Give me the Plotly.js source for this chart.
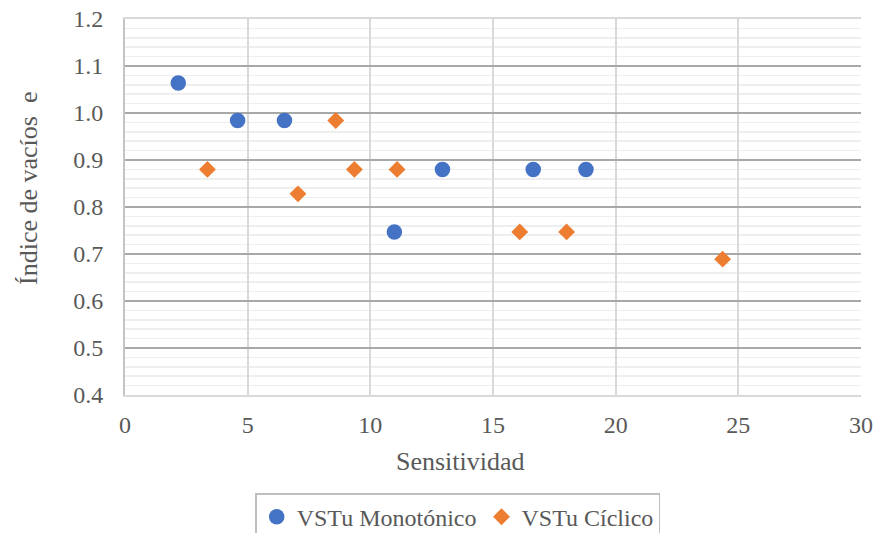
<!DOCTYPE html>
<html>
<head>
<meta charset="utf-8">
<script src="https://cdn.plot.ly/plotly-3.0.1.min.js"></script>
<style>
  html, body { margin: 0; padding: 0; background: #ffffff; }
  #chart { width: 875px; height: 533px; }
</style>
</head>
<body>
<div id="chart"></div>
<script>
// Void ratio vs. sensitivity for monotonic and cyclic VSTu tests
const monoSens = [2.17, 4.59, 6.50, 10.98, 12.94, 16.64, 18.79];
const monoVoid = [1.064, 0.984, 0.984, 0.747, 0.880, 0.880, 0.880];

const cycSens = [3.36, 7.05, 8.59, 9.35, 11.09, 16.09, 18.00, 24.36];
const cycVoid = [0.880, 0.828, 0.984, 0.880, 0.880, 0.747, 0.747, 0.689];

const seriesNames = ['VSTu Monotónico', 'VSTu Cíclico'];
const xTitle = 'Sensitividad';
const yTitle = 'Índice de vacíos  e';

const textColor = '#595959';
const fontFamily = '"Liberation Serif", "Times New Roman", serif';

const traces = [
  {
    x: monoSens, y: monoVoid, name: seriesNames[0],
    type: 'scatter', mode: 'markers',
    marker: { symbol: 'circle', size: 15.5, color: '#4472C4' }
  },
  {
    x: cycSens, y: cycVoid, name: seriesNames[1],
    type: 'scatter', mode: 'markers',
    marker: { symbol: 'diamond', size: 13, color: '#ED7D31' }
  }
];

const layout = {
  width: 875, height: 533,
  paper_bgcolor: '#ffffff', plot_bgcolor: '#ffffff',
  margin: { l: 125, r: 14, t: 19, b: 138, autoexpand: false },
  font: { family: fontFamily, color: textColor, size: 24 },
  showlegend: true,
  legend: {
    orientation: 'h',
    x: 0.452, xanchor: 'center',
    y: -0.261, yanchor: 'top',
    bordercolor: '#bfbfbf', borderwidth: 1.5,
    font: { family: fontFamily, size: 24, color: textColor },
    itemwidth: 30,
    traceorder: 'normal'
  },
  xaxis: {
    range: [0, 30], dtick: 5, tick0: 0,
    showgrid: true, gridcolor: '#d9d9d9', gridwidth: 2,
    zeroline: false, showline: true, linecolor: '#d9d9d9', linewidth: 2,
    mirror: true,
    ticks: '', ticklen: 0, ticklabelstandoff: 7,
    tickfont: { family: fontFamily, size: 24, color: textColor }
  },
  yaxis: {
    range: [0.4, 1.2], dtick: 0.1, tick0: 0.4,
    tickformat: '.1f',
    showgrid: true, gridcolor: '#a8a8a8', gridwidth: 1.5,
    zeroline: false, showline: true, linecolor: '#c4c4c4', linewidth: 2,
    ticks: '', ticklen: 0, ticklabelstandoff: 15,
    minor: { dtick: 0.02, tick0: 0.4, showgrid: true, gridcolor: '#eeeeee', gridwidth: 1.5 },
    tickfont: { family: fontFamily, size: 24, color: textColor }
  },
  annotations: [
    {
      text: xTitle, xref: 'paper', yref: 'paper',
      x: 0.4565, y: -0.178, xanchor: 'center', yanchor: 'middle',
      showarrow: false,
      font: { family: fontFamily, size: 26, color: textColor }
    },
    {
      text: yTitle, xref: 'paper', yref: 'paper', textangle: -90,
      x: -0.1304, y: 0.548, xanchor: 'center', yanchor: 'middle',
      showarrow: false,
      font: { family: fontFamily, size: 26, color: textColor }
    }
  ]
};

Plotly.newPlot('chart', traces, layout, { displayModeBar: false, staticPlot: true });
</script>
</body>
</html>
